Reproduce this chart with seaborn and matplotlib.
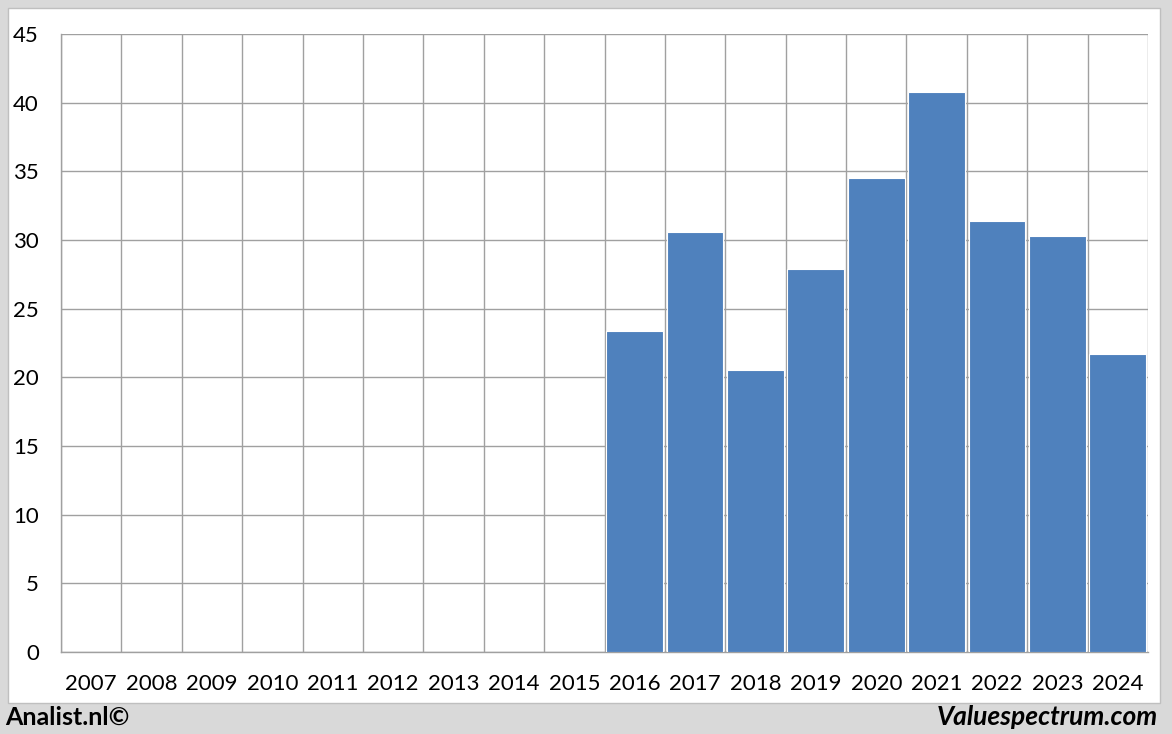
import matplotlib
matplotlib.use("Agg")
import matplotlib.pyplot as plt
from matplotlib.patches import Rectangle
from matplotlib.ticker import FixedLocator, MultipleLocator
import numpy as np
import pandas as pd
import seaborn as sns

years = [str(y) for y in range(2007, 2025)]
values = [np.nan] * 9 + [23.4, 30.6, 20.5, 27.9, 34.5, 40.8, 31.4, 30.3, 21.7]

sns.set_style("white")
plt.rcParams["font.family"] = ["Lato", "DejaVu Sans"]

W, H = 1172, 734
fig = plt.figure(figsize=(W / 100, H / 100), dpi=100)
fig.patch.set_facecolor("#d9d9d9")
fig.patches.append(Rectangle((8 / W, 1 - 703 / H), (1160 - 8) / W, (703 - 8) / H,
                             transform=fig.transFigure, facecolor="white",
                             edgecolor="#bfbfbf", linewidth=1, zorder=-5))

ax = fig.add_axes([61 / W, 1 - 652 / H, (1148 - 61) / W, (652 - 34) / H])
ax.set_zorder(2)
ax.set_facecolor("white")

df = pd.DataFrame({"year": years, "value": values})
sns.barplot(data=df, x="year", y="value", color="#4f81bd", saturation=1,
            width=0.94, edgecolor="white", linewidth=0.8, ax=ax, zorder=3)

grid_col = "#a0a0a0"
ax.set_xlim(-0.5, len(years) - 0.5)
ax.set_ylim(0, 45)
ax.yaxis.set_major_locator(MultipleLocator(5))
ax.xaxis.set_minor_locator(FixedLocator(np.arange(-0.5, len(years), 1.0)))
ax.grid(axis="y", which="major", color=grid_col, linewidth=1, zorder=0)
ax.grid(axis="x", which="minor", color=grid_col, linewidth=1, zorder=0)
ax.set_axisbelow(True)

ax.tick_params(axis="x", which="major", length=0, labelsize=16, pad=16, colors="black")
ax.tick_params(axis="x", which="minor", length=8, width=1, color=grid_col, direction="out")
ax.tick_params(axis="y", which="major", length=8, width=1, color=grid_col, labelsize=16,
               pad=8, labelcolor="black")
ax.set_xlabel("")
ax.set_ylabel("")
for s in ["left", "bottom"]:
    ax.spines[s].set_color(grid_col)
    ax.spines[s].set_linewidth(1)
for s in ["top", "right"]:
    ax.spines[s].set_visible(False)

fig.text(5 / W, 1 - 717 / H, "Analist.nl©", fontsize=18, fontweight="bold",
         ha="left", va="center", color="black")
fig.text(1158 / W, 1 - 717 / H, "Valuespectrum.com", fontsize=19, fontweight="bold",
         style="italic", ha="right", va="center", color="black")

fig.savefig("out.png", dpi=100, facecolor=fig.get_facecolor())
